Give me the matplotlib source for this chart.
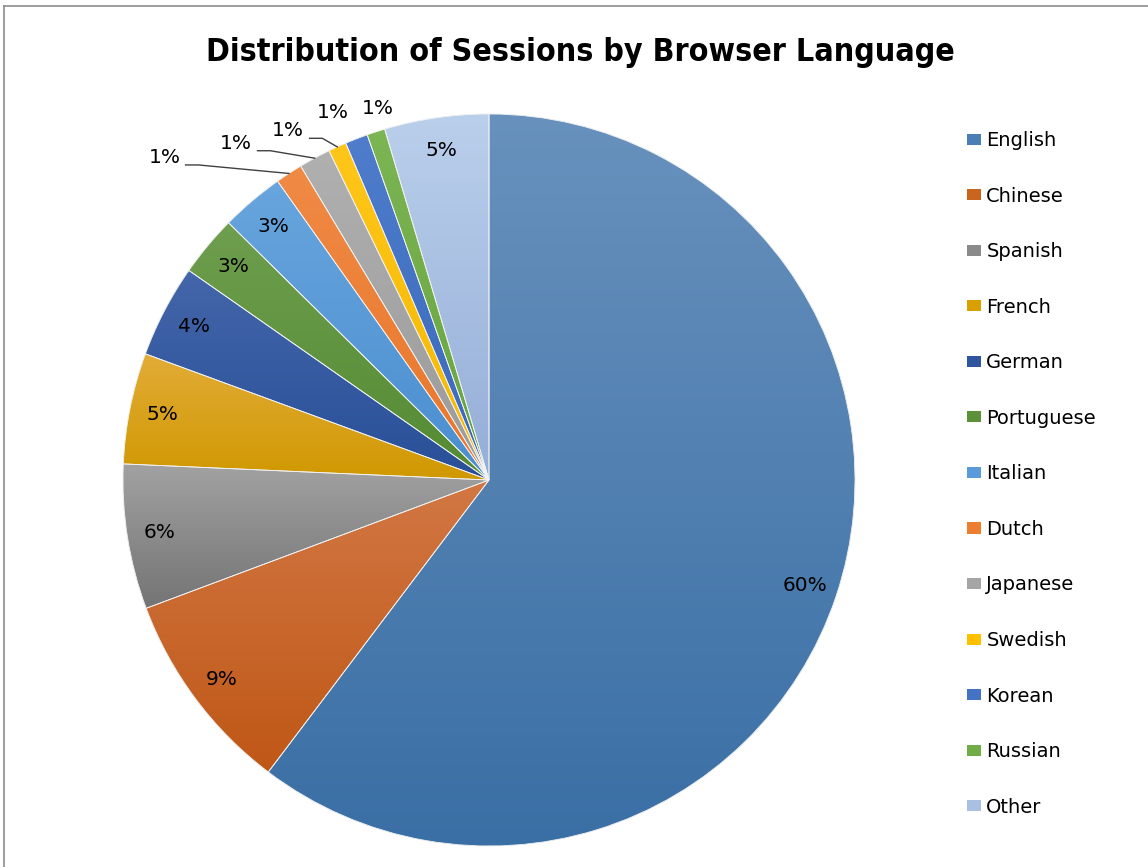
import numpy as np
import matplotlib
matplotlib.use("Agg")
import matplotlib.pyplot as plt
from matplotlib.patches import Patch, PathPatch
from matplotlib.colors import to_rgb
from matplotlib.lines import Line2D

# share of sessions (%) per browser language
languages = ["English", "Chinese", "Spanish", "French", "German", "Portuguese",
             "Italian", "Dutch", "Japanese", "Swedish", "Korean", "Russian", "Other"]
shares = [60.3, 9.0, 6.4, 4.9, 4.1, 2.7, 2.8, 1.2, 1.4, 0.8, 1.0, 0.8, 4.6]

# slice fills: base colour plus gradient top/bottom
base_colors = ["#4A7EB5", "#C9651F", "#8A8A8A", "#D9A000", "#2F55A0", "#5B9138",
               "#5A9AD8", "#ED7D31", "#A5A5A5", "#FFC000", "#4472C4", "#70AD47", "#A9C0E2"]
top_colors = ["#6891BD", "#D27744", "#A2A2A2", "#E2AC38", "#4466AA", "#6E9E4E",
              "#68A5DD", "#F08A45", "#B0B0B0", "#FFC61A", "#4F7DCC", "#7CB554", "#BACFEB"]
bottom_colors = ["#3A6FA5", "#BF5716", "#747474", "#D09800", "#284F98", "#548A32",
                 "#4A8ED0", "#E8762A", "#9A9A9A", "#F5B800", "#3A68BB", "#66A43E", "#95AED8"]

# outside labels for the thin slices: (radius, clockwise angle from top, leader line?)
outside = {7: (1.25, 314.8, True), 8: (1.15, 323.1, True), 9: (1.10, 330.1, True),
           10: (1.09, 337.0, False), 11: (1.06, 343.4, False)}

W, H = 1148, 867
fig = plt.figure(figsize=(W / 100, H / 100), dpi=100)

# pie centre at (489, 480) px, radius 366 px
R = 366
lim = 1.35
cx, cy = 489, H - 480
ax = fig.add_axes([(cx - R * lim) / W, (cy - R * lim) / H, 2 * R * lim / W, 2 * R * lim / H])

wedges, _ = ax.pie(shares, colors=base_colors, startangle=90, counterclock=False,
                   radius=1, wedgeprops=dict(edgecolor="#f2f2f2", linewidth=0.6))

# vertical gradient inside each slice
for w, c0, c1 in zip(wedges, top_colors, bottom_colors):
    bb = w.get_path().get_extents()
    t = np.linspace(0, 1, 256)[:, None]
    img = (1 - t)[..., None] * np.array(to_rgb(c0)) + t[..., None] * np.array(to_rgb(c1))
    img = np.repeat(img, 2, axis=1)
    im = ax.imshow(img, extent=(bb.x0, bb.x1, bb.y0, bb.y1), aspect="auto",
                   origin="upper", zorder=w.get_zorder() + 0.1, interpolation="bilinear")
    im.set_clip_path(w)
    # keep the thin edge on top
    ax.add_patch(PathPatch(w.get_path(), facecolor="none", edgecolor="#f2f2f2",
                           linewidth=0.6, zorder=3))

label_font = dict(family="DejaVu Sans", fontsize=14.5, color="black")

total = sum(shares)
start = 0.0
for i, v in enumerate(shares):
    mid = (start + v / 2) / total * 360.0
    start += v
    txt = f"{v / total * 100:.0f}%"
    if i in outside:
        r, ang, leader = outside[i]
        a = np.radians(ang)
        tx, ty = r * np.sin(a), r * np.cos(a)
        ax.text(tx, ty, txt, ha="center", va="center", zorder=5, **label_font)
        if leader:
            m = np.radians(mid)
            ex, ey = np.sin(m), np.cos(m)
            sx, sy = tx + 0.058, ty - 0.02
            ax.add_line(Line2D([sx, sx + 0.035, ex], [sy, sy, ey],
                               color="#404040", linewidth=1.0, zorder=5))
    else:
        m = np.radians(mid)
        ax.text(0.91 * np.sin(m), 0.91 * np.cos(m), txt, ha="center", va="center",
                zorder=5, **label_font)

ax.set_xlim(-lim, lim)
ax.set_ylim(-lim, lim)
ax.set_aspect("equal")
ax.axis("off")

fig.text(580 / W, 1 - 52 / H, "Distribution of Sessions by Browser Language",
         ha="center", va="center", fontsize=23, fontweight="bold",
         family="DejaVu Sans", fontstretch="condensed")

handles = [Patch(facecolor=c) for c in base_colors]
leg = fig.legend(handles, languages, loc="upper left", bbox_to_anchor=(967 / W, 1 - 131 / H),
                 frameon=False, prop=dict(family="DejaVu Sans", size=14),
                 handlelength=0.72, handleheight=0.5, handletextpad=0.27,
                 labelspacing=1.88, borderaxespad=0, borderpad=0)

# chart area border (top and left edges)
fig.add_artist(Line2D([4 / W, 4 / W], [0, 1 - 6 / H], color="#8c8c8c", linewidth=1.2))
fig.add_artist(Line2D([4 / W, 1], [1 - 6 / H, 1 - 6 / H], color="#8c8c8c", linewidth=1.2))

fig.savefig("out.png", dpi=100)
